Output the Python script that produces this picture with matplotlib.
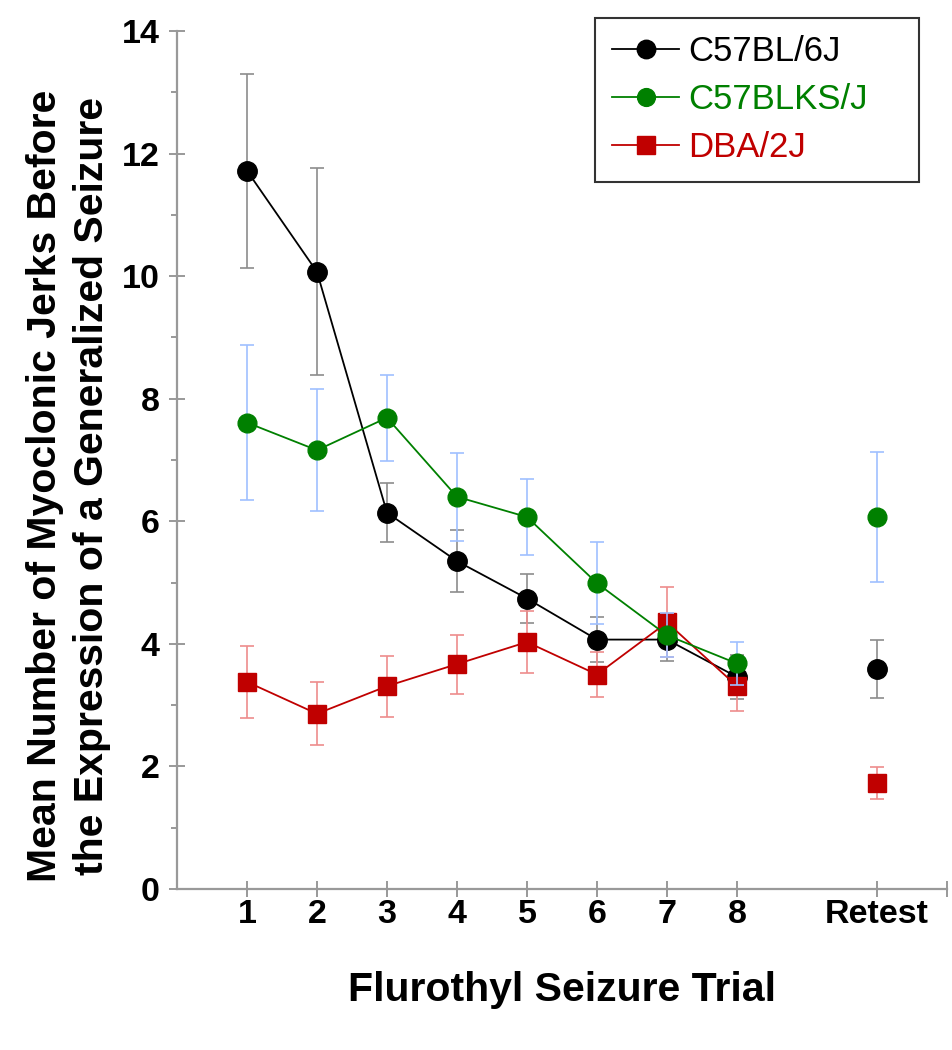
import matplotlib

matplotlib.use("Agg")
import matplotlib.pyplot as plt

plt.rcParams["font.family"] = ["Liberation Sans", "DejaVu Sans"]

trials = [1, 2, 3, 4, 5, 6, 7, 8]
retest_x = 10
tick_pos = [1, 2, 3, 4, 5, 6, 7, 8, 10, 11]
tick_labels = ["1", "2", "3", "4", "5", "6", "7", "8", "Retest", ""]

# C57BL/6J
b6_mean = [11.72, 10.07, 6.14, 5.35, 4.74, 4.07, 4.07, 3.46]
b6_sem = [1.58, 1.69, 0.48, 0.50, 0.40, 0.37, 0.35, 0.36]
b6_retest = 3.59
b6_retest_sem = 0.47

# C57BLKS/J
ks_mean = [7.61, 7.16, 7.69, 6.40, 6.07, 4.99, 4.14, 3.68]
ks_sem = [1.26, 1.00, 0.70, 0.72, 0.62, 0.67, 0.36, 0.35]
ks_retest = 6.07
ks_retest_sem = 1.06

# DBA/2J
dba_mean = [3.38, 2.86, 3.31, 3.67, 4.03, 3.50, 4.35, 3.31]
dba_sem = [0.59, 0.51, 0.50, 0.48, 0.51, 0.36, 0.57, 0.40]
dba_retest = 1.73
dba_retest_sem = 0.26


def draw_series(ax, mean, sem, r_mean, r_sem, color, err_color, marker, size, label, z):
    ax.errorbar(trials, mean, yerr=sem, fmt="none", ecolor=err_color,
                elinewidth=1.2, capsize=5, capthick=1.2, zorder=z)
    ax.errorbar([retest_x], [r_mean], yerr=[r_sem], fmt="none", ecolor=err_color,
                elinewidth=1.2, capsize=5, capthick=1.2, zorder=z)
    ax.plot(trials, mean, color=color, linewidth=1.3, marker=marker,
            markersize=size, markeredgecolor=color, label=label, zorder=z + 0.5)
    ax.plot([retest_x], [r_mean], color=color, linestyle="none", marker=marker,
            markersize=size, markeredgecolor=color, zorder=z + 0.5)


def main():
    fig = plt.figure(figsize=(9.53, 10.5), dpi=100)
    ax = fig.add_axes([0.1857, 0.1533, 0.808, 0.8172])

    draw_series(ax, b6_mean, b6_sem, b6_retest, b6_retest_sem,
                "black", "#8c8c8c", "o", 14, "C57BL/6J", 2)
    draw_series(ax, dba_mean, dba_sem, dba_retest, dba_retest_sem,
                "#c00000", "#ee8c8c", "s", 13, "DBA/2J", 3)
    draw_series(ax, ks_mean, ks_sem, ks_retest, ks_retest_sem,
                "#008000", "#9fc0ff", "o", 13.5, "C57BLKS/J", 4)

    ax.set_xlim(0, 11)
    ax.set_ylim(0, 14)
    ax.set_xticks(tick_pos)
    ax.set_xticklabels(tick_labels, fontsize=24.5, fontweight="bold")
    ax.set_yticks(range(0, 15, 2))
    ax.set_yticks(range(1, 14, 2), minor=True)
    ax.tick_params(axis="y", labelsize=24.5)
    for lab in ax.get_yticklabels():
        lab.set_fontweight("bold")

    ax.tick_params(axis="both", which="major", direction="inout", length=11,
                   width=1.2, color="#888888")
    ax.tick_params(axis="y", which="minor", direction="out", length=4,
                   width=1.2, color="#888888")
    ax.tick_params(axis="x", pad=2)
    ax.tick_params(axis="y", pad=7)

    ax.spines["top"].set_visible(False)
    ax.spines["right"].set_visible(False)
    ax.spines["left"].set_color("#999999")
    ax.spines["bottom"].set_color("#999999")
    ax.spines["left"].set_linewidth(1.6)
    ax.spines["bottom"].set_linewidth(1.6)

    ax.set_xlabel("Flurothyl Seizure Trial", fontsize=29.5, fontweight="bold",
                  labelpad=29)
    ax.set_ylabel("Mean Number of Myoclonic Jerks Before\nthe Expression of a Generalized Seizure",
                  fontsize=29.5, fontweight="bold", linespacing=1.3)
    ax.yaxis.set_label_coords(-0.086, 0.47)

    handles, labels = ax.get_legend_handles_labels()
    order = [0, 2, 1]
    box = (595 / 953, 1 - 175 / 1050, (919 - 595) / 953, (175 - 18) / 1050)
    leg = ax.legend([handles[i] for i in order], [labels[i] for i in order],
                    loc="upper left", bbox_to_anchor=box, mode="expand",
                    bbox_transform=fig.transFigure, borderaxespad=0,
                    fontsize=25, frameon=True, fancybox=False,
                    handlelength=1.93, borderpad=0.5, labelspacing=0.43,
                    handletextpad=0.26, markerscale=0.95)
    leg.get_frame().set_edgecolor("black")
    leg.get_frame().set_linewidth(1.5)
    for text, col in zip(leg.get_texts(), ["black", "#008000", "#c00000"]):
        text.set_color(col)

    fig.savefig("out.png", dpi=100)


if __name__ == "__main__":
    main()
